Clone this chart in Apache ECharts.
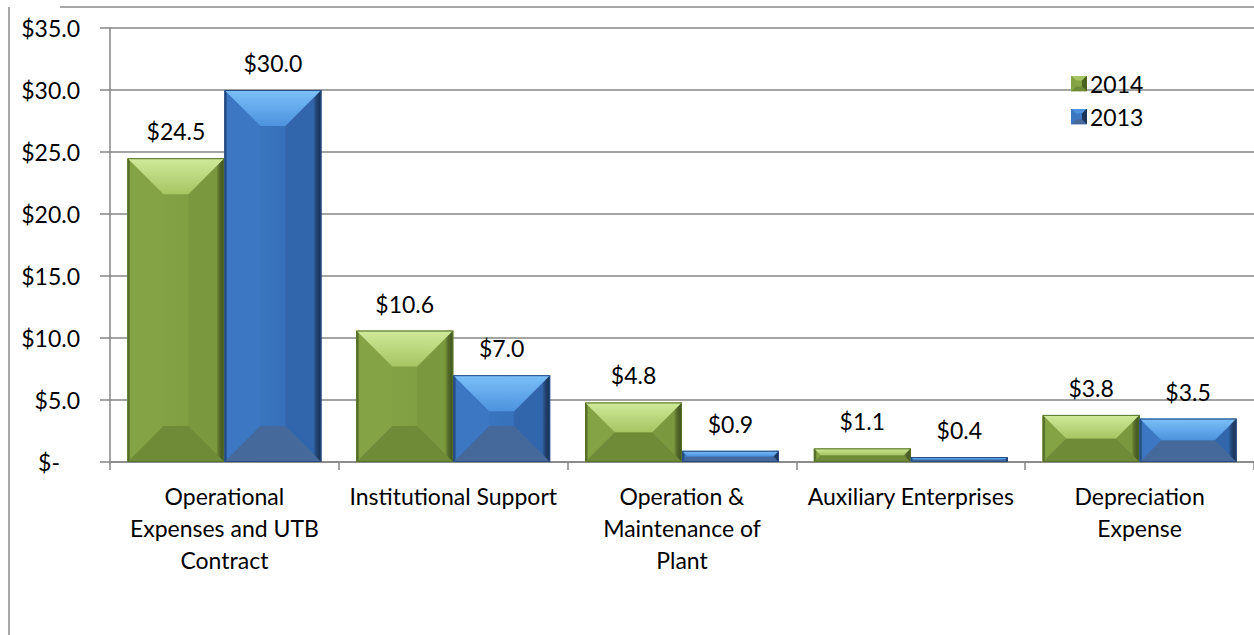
<!DOCTYPE html>
<html>
<head>
<meta charset="utf-8">
<script src="https://cdn.jsdelivr.net/npm/echarts@6/dist/echarts.min.js"></script>
<style>
html,body{margin:0;padding:0;background:#fff;}
#chart{width:1254px;height:635px;}
</style>
</head>
<body>
<div id="chart"></div>
<script>
// ---- data ----
const categories = [
  'Operational\nExpenses and UTB\nContract',
  'Institutional Support',
  'Operation &\nMaintenance of\nPlant',
  'Auxiliary Enterprises',
  'Depreciation\nExpense'
];
const seriesNames = ['2014', '2013'];
const values2014 = [24.5, 10.6, 4.8, 1.1, 3.8];
const values2013 = [30.0, 7.0, 0.9, 0.4, 3.5];
const yMin = 0, yMax = 35, yStep = 5;

// ---- styling ----
const FONT = 'Lato, "Open Sans", sans-serif';
const palettes = [
  { // green
    topA: '#d0ea9a', topB: '#a6c562',
    left: '#84a345', mid1: '#86a547', mid2: '#7d9c40',
    right: '#7a983d', edgeR: '#4a6220', edgeL: '#5f7d2c',
    bottom: '#6f8b37', edge: '#55702a'
  },
  { // blue
    topA: '#7cc0f8', topB: '#4c92de',
    left: '#3b77c2', mid1: '#3c79c5', mid2: '#346cb4',
    right: '#3266ac', edgeR: '#1b3458', edgeL: '#2c5a98',
    bottom: '#46699b', edge: '#284c80'
  }
];

function lg(x1, y1, x2, y2, a, b) {
  return { type: 'linear', x: x1, y: y1, x2: x2, y2: y2, global: true,
           colorStops: [{ offset: 0, color: a }, { offset: 1, color: b }] };
}

function bevelRender(si) {
  const p = palettes[si];
  return function (params, api) {
    const ci = api.value(0), v = api.value(1);
    const band = api.size([1, 0])[0];
    const bw = band * 0.4236;
    const c0 = api.coord([ci, 0]);
    const c1 = api.coord([ci, v]);
    const x0 = c0[0] - bw + si * bw;
    const x1 = x0 + bw;
    const yb = c0[1], yt = c1[1];
    const h = yb - yt;
    const d = Math.min(36, bw / 2, h / 2);
    const er = Math.min(8, bw / 6);
    const children = [
      { type: 'rect', shape: { x: x0, y: yt, width: bw, height: h },
        style: { fill: lg(x0, 0, x1, 0, p.mid1, p.mid2) } },
      { type: 'polygon', shape: { points: [[x0, yt], [x0 + d, yt + d], [x0 + d, yb - d], [x0, yb]] },
        style: { fill: p.left } },
      { type: 'polygon', shape: { points: [[x1, yt], [x1 - d, yt + d], [x1 - d, yb - d], [x1, yb]] },
        style: { fill: p.right } },
      { type: 'rect', shape: { x: x1 - er, y: yt, width: er, height: h },
        style: { fill: lg(x1 - er, 0, x1, 0, 'rgba(0,0,0,0)', p.edgeR) } },
      { type: 'rect', shape: { x: x0, y: yt, width: 3, height: h },
        style: { fill: lg(x0, 0, x0 + 3, 0, p.edgeL, 'rgba(0,0,0,0)') } },
      { type: 'polygon', shape: { points: [[x0, yb], [x1, yb], [x1 - d, yb - d], [x0 + d, yb - d]] },
        style: { fill: p.bottom } },
      { type: 'polygon', shape: { points: [[x0, yt], [x1, yt], [x1 - d, yt + d], [x0 + d, yt + d]] },
        style: { fill: lg(0, yt, 0, yt + d, p.topA, p.topB) } },
      { type: 'rect', shape: { x: x0 + 0.5, y: yt + 0.5, width: bw - 1, height: Math.max(h - 1, 0) },
        style: { fill: 'none', stroke: p.edge, lineWidth: 1 } },
      { type: 'text', x: (x0 + x1) / 2, y: yt - 27,
        style: { text: '$' + v.toFixed(1), fill: '#000', font: '23px ' + FONT,
                 align: 'center', verticalAlign: 'middle' } }
    ];
    return { type: 'group', children: children };
  };
}

function iconSvg(p) {
  const s = '<svg xmlns="http://www.w3.org/2000/svg" width="16" height="16">' +
    '<rect width="16" height="16" fill="' + p.mid1 + '"/>' +
    '<polygon points="0,0 16,0 11,5 5,5" fill="' + p.topB + '"/>' +
    '<polygon points="16,0 16,16 11,11 11,5" fill="' + p.edgeR + '"/>' +
    '<polygon points="0,16 16,16 11,11 5,11" fill="' + p.bottom + '"/>' +
    '<polygon points="0,0 5,5 5,11 0,16" fill="' + p.left + '"/>' +
    '</svg>';
  return 'image://data:image/svg+xml;charset=utf-8,' + encodeURIComponent(s);
}

const chart = echarts.init(document.getElementById('chart'), null, { renderer: 'svg' });
chart.setOption({
  animation: false,
  backgroundColor: '#fff',
  textStyle: { fontFamily: FONT },
  grid: { left: 110, right: 0, top: 28, bottom: 173, containLabel: false },
  legend: {
    orient: 'vertical', left: 1066, top: 67,
    itemWidth: 16, itemHeight: 16, itemGap: 10,
    textStyle: { fontFamily: FONT, fontSize: 23, color: '#000', lineHeight: 23, padding: [0, 0, 0, -2] },
    data: [
      { name: seriesNames[0], icon: iconSvg(palettes[0]) },
      { name: seriesNames[1], icon: iconSvg(palettes[1]) }
    ]
  },
  xAxis: {
    type: 'category', data: categories,
    axisLine: { show: true, lineStyle: { color: '#868686', width: 1.5 } },
    axisTick: { show: true, length: 8, lineStyle: { color: '#868686', width: 1.5 } },
    axisLabel: { interval: 0, margin: 18, fontFamily: FONT, fontSize: 23, lineHeight: 32, color: '#000', align: 'center' },
    splitLine: { show: false }
  },
  yAxis: {
    type: 'value', min: yMin, max: yMax, interval: yStep,
    axisLine: { show: true, lineStyle: { color: '#868686', width: 1.5 } },
    axisTick: { show: true, length: 10, lineStyle: { color: '#868686', width: 1.5 } },
    splitLine: { show: true, lineStyle: { color: '#868686', width: 1.5 } },
    axisLabel: {
      margin: 30, fontFamily: FONT, fontSize: 23, color: '#000',
      formatter: function (v) { return v === 0 ? '{z|$-}' : '$' + v.toFixed(1); },
      rich: { z: { fontFamily: FONT, fontSize: 23, color: '#000', padding: [0, 20, 0, 0] } }
    }
  },
  graphic: [
    { type: 'line', shape: { x1: 9, y1: 7, x2: 9, y2: 635 }, style: { stroke: '#8a8a8a', lineWidth: 1.5 }, silent: true },
    { type: 'line', shape: { x1: 60, y1: 7, x2: 1254, y2: 7 }, style: { stroke: '#8a8a8a', lineWidth: 1.5 }, silent: true }
  ],
  series: [
    { type: 'custom', name: seriesNames[0], renderItem: bevelRender(0),
      encode: { x: 0, y: 1 }, itemStyle: { color: palettes[0].mid1 },
      data: values2014.map(function (v, i) { return [i, v]; }) },
    { type: 'custom', name: seriesNames[1], renderItem: bevelRender(1),
      encode: { x: 0, y: 1 }, itemStyle: { color: palettes[1].mid1 },
      data: values2013.map(function (v, i) { return [i, v]; }) }
  ]
});
</script>
</body>
</html>
